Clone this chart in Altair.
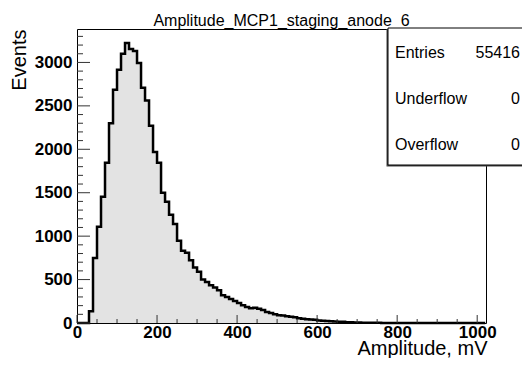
import altair as alt
import pandas as pd

# ---- data ----
bin_width = 10
counts = [0, 0, 0, 135, 747, 1108, 1454, 1846, 2301, 2685,
          2916, 3101, 3224, 3155, 3132, 2993, 2708, 2562, 2270, 1970,
          1846, 1500, 1397, 1246, 1139, 946, 831, 808, 723, 640,
          589, 501, 473, 435, 408, 377, 320, 300, 277, 254,
          231, 204, 185, 170, 177, 165, 150, 127, 115, 100,
          90, 85, 77, 72, 65, 55, 50, 42, 40, 36,
          28, 25, 22, 20, 17, 15, 13, 10, 8, 6,
          5, 4, 3, 3, 2, 2, 1, 1, 1, 0,
          0, 0, 0, 0, 0, 0, 0, 0, 0, 0,
          0, 0, 0, 0, 0, 0, 0, 0, 0, 0,
          0, 0]
x_range = [0, 1022]
y_range = [0, 3385]
x_major = [0, 200, 400, 600, 800, 1000]
x_minor = [v for v in range(0, 1001, 50) if v % 200 != 0]
y_major = [0, 500, 1000, 1500, 2000, 2500, 3000]
y_minor = [v for v in range(0, 3301, 100) if v % 500 != 0]
title_text = "Amplitude_MCP1_staging_anode_6"
stat_names = ["Entries", "Underflow", "Overflow"]
stat_values = ["55416", "0", "0"]

edges = [i * bin_width for i in range(len(counts) + 1)]
hist_df = pd.DataFrame({"edge": edges, "count": counts + [counts[-1]]})

W, H = 409, 294
FONT = "Liberation Sans"

xs = alt.Scale(domain=x_range, nice=False, zero=False)
ys = alt.Scale(domain=y_range, nice=False)

x_axis = alt.Axis(values=x_major, format="d", ticks=False, domain=False, grid=False,
                  labelFont=FONT, labelFontSize=17, labelFontWeight="bold",
                  labelColor="black", labelPadding=1, labelFlush=False,
                  labelOverlap=False, title="Amplitude, mV", titleFont=FONT,
                  titleFontSize=20, titleFontWeight="normal", titleColor="black",
                  titleX=W + 1, titleY=31, titleAlign="right", titleBaseline="alphabetic")
y_axis = alt.Axis(values=y_major, format="d", ticks=False, domain=False, grid=False,
                  labelFont=FONT, labelFontSize=17, labelFontWeight="bold",
                  labelColor="black", labelPadding=5, labelFlush=False,
                  labelOverlap=False, title="Events", titleFont=FONT,
                  titleFontSize=20, titleFontWeight="normal", titleColor="black",
                  titleX=-52, titleY=0, titleAngle=270, titleAlign="right",
                  titleBaseline="alphabetic")

base = alt.Chart(hist_df)
area = base.mark_area(interpolate="step-after", color="#e3e3e3").encode(
    x=alt.X("edge:Q", scale=xs, axis=x_axis),
    y=alt.Y("count:Q", scale=ys, axis=y_axis),
)
line = base.mark_line(interpolate="step-after", color="black", strokeWidth=2.5,
                      strokeJoin="miter").encode(
    x=alt.X("edge:Q", scale=xs),
    y=alt.Y("count:Q", scale=ys),
)

xmaj = alt.Chart(pd.DataFrame({"t": x_major})).mark_rule(color="#333", strokeWidth=1).encode(
    x=alt.X("t:Q", scale=xs), y=alt.value(H), y2=alt.value(H - 8))
xmin = alt.Chart(pd.DataFrame({"t": x_minor})).mark_rule(color="#333", strokeWidth=1).encode(
    x=alt.X("t:Q", scale=xs), y=alt.value(H), y2=alt.value(H - 4))
ymaj = alt.Chart(pd.DataFrame({"t": y_major})).mark_rule(color="#333", strokeWidth=1).encode(
    y=alt.Y("t:Q", scale=ys), x=alt.value(0), x2=alt.value(13))
ymin = alt.Chart(pd.DataFrame({"t": y_minor})).mark_rule(color="#333", strokeWidth=1).encode(
    y=alt.Y("t:Q", scale=ys), x=alt.value(0), x2=alt.value(6))

dummy = pd.DataFrame({"a": [0]})
title = alt.Chart(dummy).mark_text(font=FONT, fontSize=16, color="black",
                                   align="center", baseline="alphabetic").encode(
    x=alt.value(W / 2), y=alt.value(-3.5), text=alt.value(title_text))

shadow = alt.Chart(dummy).mark_rect(color="#444").encode(
    x=alt.value(309.5), x2=alt.value(480), y=alt.value(0), y2=alt.value(137.5))
box = alt.Chart(dummy).mark_rect(fill="white", stroke="black", strokeWidth=1).encode(
    x=alt.value(311), x2=alt.value(480), y=alt.value(-1), y2=alt.value(136))

stat_layers = []
for i, (nm, val) in enumerate(zip(stat_names, stat_values)):
    yy = 24 + 46 * i
    stat_layers.append(alt.Chart(dummy).mark_text(
        font=FONT, fontSize=16, color="black", align="left", baseline="middle").encode(
        x=alt.value(318), y=alt.value(yy), text=alt.value(nm)))
    stat_layers.append(alt.Chart(dummy).mark_text(
        font=FONT, fontSize=16, color="black", align="right", baseline="middle").encode(
        x=alt.value(443), y=alt.value(yy), text=alt.value(val)))

chart = alt.layer(area, line, xmaj, xmin, ymaj, ymin, title, shadow, box, *stat_layers).properties(
    width=W, height=H,
    autosize=alt.AutoSizeParams(type="none"),
    padding={"left": 69, "top": 21, "right": 36, "bottom": 35},
    background="white",
).configure_view(stroke="black", strokeWidth=1)

chart.save("out.html", embed_options={"renderer": "svg", "actions": False})
